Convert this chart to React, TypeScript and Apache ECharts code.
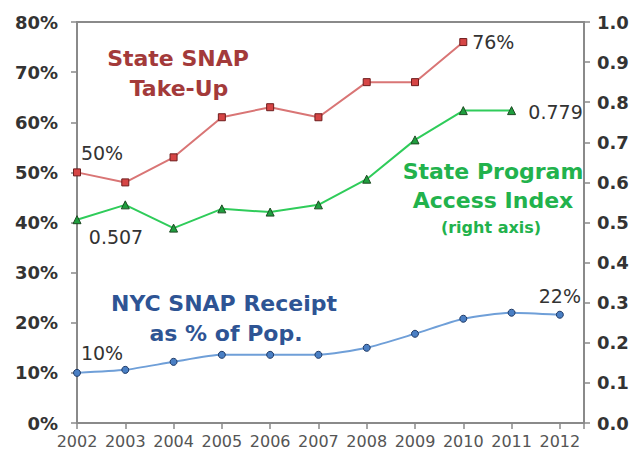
import React, { useEffect, useRef } from "react";
import * as echarts from "echarts";

const years = [2002, 2003, 2004, 2005, 2006, 2007, 2008, 2009, 2010, 2011, 2012];
const takeUp = [50, 48, 53, 61, 63, 61, 68, 68, 76, null, null];
const accessIndex = [0.507, 0.544, 0.486, 0.534, 0.526, 0.544, 0.608, 0.706, 0.779, 0.779, null];
const nycReceipt = [10.0, 10.6, 12.2, 13.6, 13.6, 13.6, 15.0, 17.8, 20.8, 22.0, 21.6];
const leftTicks = [0, 10, 20, 30, 40, 50, 60, 70, 80];
const rightTicks = [0, 0.1, 0.2, 0.3, 0.4, 0.5, 0.6, 0.7, 0.8, 0.9, 1.0];

const FONT = "'DejaVu Sans', sans-serif";
const TXT = "#333333";
const AX = "#8a8a8a";

type Lbl = { text: string; offset: [number, number] };

function build(vals: (number | null)[], labels: Record<number, Lbl>) {
  const out: any[] = [];
  vals.forEach((v, i) => {
    if (v === null) return;
    const item: any = { value: [years[i], v] };
    const l = labels[i];
    if (l) {
      item.label = {
        show: true,
        position: "inside",
        offset: l.offset,
        formatter: l.text,
        color: TXT,
        fontFamily: FONT,
        fontSize: 19,
      };
    }
    out.push(item);
  });
  return out;
}

export default function App() {
  const ref = useRef<HTMLDivElement>(null);
  useEffect(() => {
    if (!ref.current) return;
    const chart = echarts.init(ref.current, null, { renderer: "svg" });
    const text = (t: string, x: number, y: number, fill: string, size: number, weight = "bold") => ({
      type: "text",
      x,
      y,
      style: {
        text: t,
        fill,
        font: `${weight} ${size}px ${FONT}`,
        textAlign: "center",
        textVerticalAlign: "middle",
      },
    });
    chart.setOption({
      animation: false,
      backgroundColor: "#ffffff",
      grid: {
        left: 77,
        right: 53,
        top: 22,
        bottom: 33,
        show: true,
        borderColor: AX,
        borderWidth: 2,
        backgroundColor: "transparent",
      },
      xAxis: {
        type: "value",
        min: 2002,
        max: 2012.5,
        interval: 1,
        axisLine: { show: true, lineStyle: { color: AX, width: 2 } },
        axisTick: { show: true, length: 6, lineStyle: { color: AX, width: 1.5 } },
        splitLine: { show: false },
        axisLabel: {
          margin: 10,
          color: "#555555",
          fontFamily: FONT,
          fontSize: 16,
          formatter: (v: number) => (Number.isInteger(v) ? String(v) : ""),
        },
      },
      yAxis: [
        {
          type: "value",
          min: leftTicks[0],
          max: leftTicks[leftTicks.length - 1],
          interval: 10,
          position: "left",
          axisLine: { show: true, lineStyle: { color: AX, width: 2 } },
          axisTick: { show: true, length: 6, lineStyle: { color: AX, width: 1.5 } },
          splitLine: { show: false },
          axisLabel: {
            margin: 19,
            color: TXT,
            fontFamily: FONT,
            fontWeight: "bold",
            fontSize: 18,
            formatter: (v: number) => `${v}%`,
          },
        },
        {
          type: "value",
          min: rightTicks[0],
          max: rightTicks[rightTicks.length - 1],
          interval: 0.1,
          position: "right",
          axisLine: { show: true, lineStyle: { color: AX, width: 2 } },
          axisTick: { show: true, length: 6, lineStyle: { color: AX, width: 1.5 } },
          splitLine: { show: false },
          axisLabel: {
            margin: 13,
            color: TXT,
            fontFamily: FONT,
            fontWeight: "bold",
            fontSize: 18,
            formatter: (v: number) => v.toFixed(1),
          },
        },
      ],
      series: [
        {
          name: "State SNAP Take-Up",
          type: "line",
          yAxisIndex: 0,
          data: build(takeUp, {
            0: { text: "50%", offset: [25, -19] },
            8: { text: "76%", offset: [30, 0] },
          }),
          symbol: "rect",
          symbolSize: 7,
          lineStyle: { color: "#d97575", width: 2 },
          itemStyle: { color: "#d64545", borderColor: "#6e1d1d", borderWidth: 1 },
          z: 3,
        },
        {
          name: "State Program Access Index",
          type: "line",
          yAxisIndex: 1,
          data: build(accessIndex, {
            0: { text: "0.507", offset: [39, 17] },
            9: { text: "0.779", offset: [44, 1] },
          }),
          symbol: "triangle",
          symbolSize: 8,
          lineStyle: { color: "#2fcc5a", width: 2 },
          itemStyle: { color: "#1f9e3e", borderColor: "#1d4a22", borderWidth: 1 },
          z: 3,
        },
        {
          name: "NYC SNAP Receipt as % of Pop.",
          type: "line",
          yAxisIndex: 0,
          smooth: 0.2,
          data: build(nycReceipt, {
            0: { text: "10%", offset: [25, -20] },
            10: { text: "22%", offset: [0, -19] },
          }),
          symbol: "circle",
          symbolSize: 7,
          lineStyle: { color: "#6f9fd8", width: 2 },
          itemStyle: { color: "#4a7fc4", borderColor: "#1f3a66", borderWidth: 1 },
          z: 3,
        },
      ],
      graphic: [
        text("State SNAP", 178, 58, "#a33a3a", 22),
        text("Take-Up", 179, 88, "#a33a3a", 22),
        text("State Program", 493, 171, "#22b24c", 22),
        text("Access Index", 493, 200, "#22b24c", 22),
        text("(right axis)", 491, 227, "#22b24c", 16),
        text("NYC SNAP Receipt", 224, 303, "#2e5494", 22),
        text("as % of Pop.", 226, 333, "#2e5494", 22),
      ],
    });
    return () => chart.dispose();
  }, []);
  return (
    <div
      ref={ref}
      style={{ position: "fixed", left: 0, top: 0, width: 637, height: 456, background: "#fff" }}
    />
  );
}
